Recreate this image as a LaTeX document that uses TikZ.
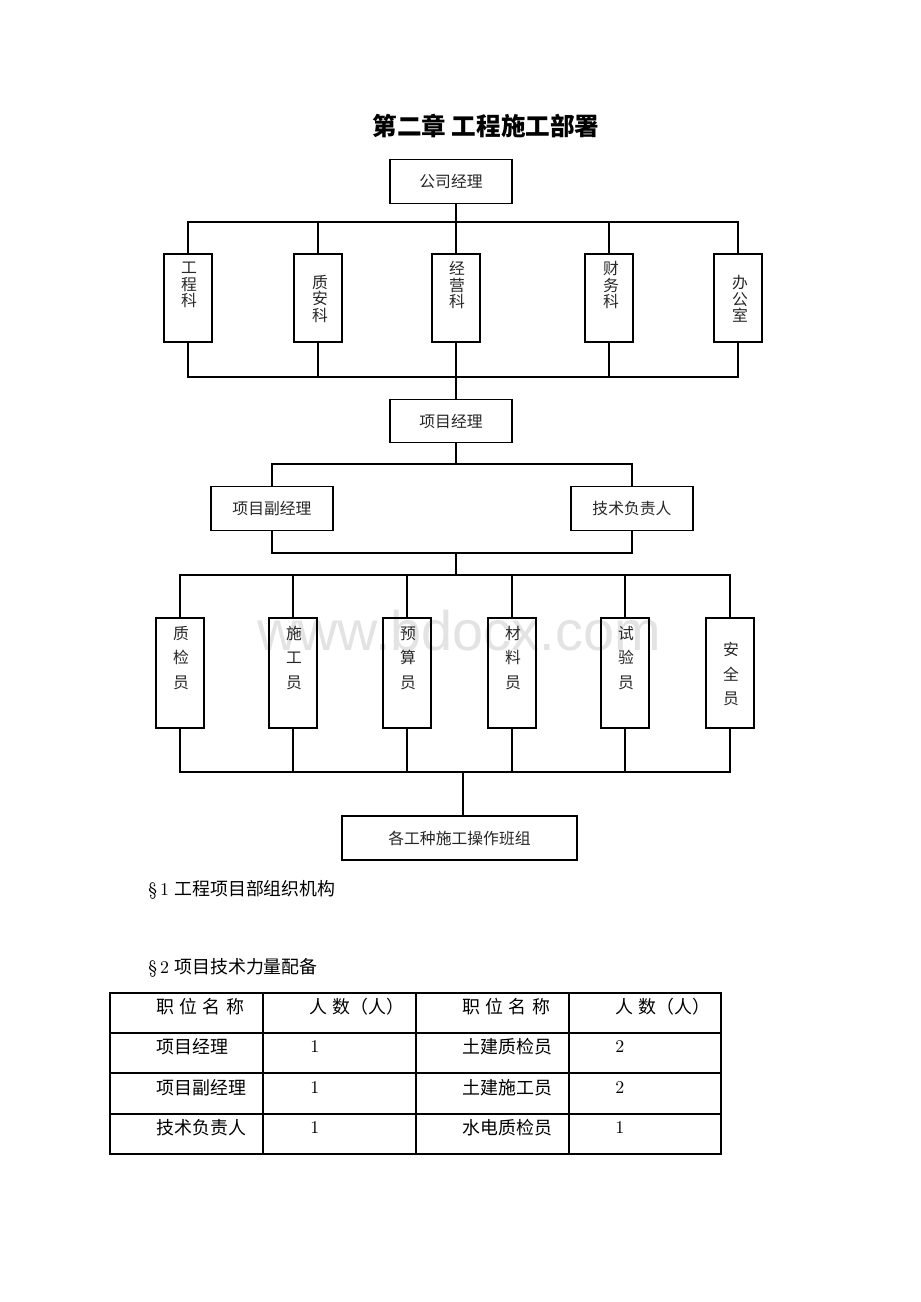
\documentclass[tikz,border=0pt]{standalone}
\usepackage{fontspec}
\usepackage{tikz}
\newfontfamily\cjk{Noto Sans CJK SC}
\newfontfamily\wmfont{Liberation Sans}
\tikzset{
  unit/.style={draw=black,line width=0.7pt,inner sep=0pt,font=\cjk\fontsize{9pt}{10pt}\selectfont,text=black!85},
  wide/.style={unit,minimum width=2.44cm,minimum height=0.87cm},
  tall/.style={unit,minimum width=0.96cm,minimum height=1.76cm},
  staff/.style={unit,minimum width=0.96cm,minimum height=2.2cm},
  lbl/.style={inner sep=0pt,align=center,text=black!85,font=\cjk\fontsize{9pt}{9.4pt}\selectfont},
  stafflbl/.style={lbl,font=\cjk\fontsize{9pt}{13.9pt}\selectfont},
  link/.style={line width=0.6pt},
  grid/.style={line width=0.6pt},
  cell/.style={anchor=west,inner sep=0pt,font=\cjk\fontsize{10.2pt}{12pt}\selectfont},
  num/.style={anchor=west,inner sep=0pt,font=\fontsize{10.2pt}{12pt}\selectfont},
  title/.style={inner sep=0pt,font=\cjk\bfseries\fontsize{14pt}{16pt}\selectfont},
  wmark/.style={inner sep=0pt,text=gray!22,font=\wmfont\fontsize{31.8pt}{34pt}\selectfont}
}

\begin{document}
\begin{tikzpicture}[x=0.02cm,y=-0.02cm]
  \useasboundingbox (0,0) rectangle (920,1302);
  \node[wmark] (wm) at (459,631) {www.bdocx.com};
  \node[title] (ttl) at (486,126) {第二章 工程施工部署};

  \coordinate (spine) at (456,0);
  \coordinate (drop) at (463,0);
  \coordinate (bus1) at (0,222);
  \coordinate (bus2) at (0,377);
  \coordinate (bus3) at (0,464);
  \coordinate (bus4) at (0,553);
  \coordinate (bus5) at (0,575);
  \coordinate (bus6) at (0,772);

  \node[wide] (gsjl) at (451,181.5) {公司经理};

  \node[tall] (gck) at (188,298) {};
  \node[tall] (zak) at (318,298) {};
  \node[tall] (jyk) at (456,298) {};
  \node[tall] (cwk) at (609,298) {};
  \node[tall] (bgs) at (738,298) {};
  \node[lbl] (gck-t) at (189,285) {工\\程\\科};
  \node[lbl] (zak-t) at (320,299) {质\\安\\科};
  \node[lbl] (jyk-t) at (457,285) {经\\营\\科};
  \node[lbl] (cwk-t) at (611,285) {财\\务\\科};
  \node[lbl] (bgs-t) at (740,299) {办\\公\\室};

  \node[wide] (xmjl) at (451,421) {项目经理};
  \node[wide] (fjl) at (272,508.5) {项目副经理};
  \node[wide] (jsfz) at (632,508.5) {技术负责人};

  \node[staff] (zjy) at (180,673) {};
  \node[staff] (sgy) at (293,673) {};
  \node[staff] (ysy) at (407,673) {};
  \node[staff] (cly) at (512,673) {};
  \node[staff] (syy) at (625,673) {};
  \node[staff] (aqy) at (730,673) {};
  \node[stafflbl] (zjy-t) at (181,658) {质\\检\\员};
  \node[stafflbl] (sgy-t) at (294,658) {施\\工\\员};
  \node[stafflbl] (ysy-t) at (408,658) {预\\算\\员};
  \node[stafflbl] (cly-t) at (513,658) {材\\料\\员};
  \node[stafflbl] (syy-t) at (626,658) {试\\验\\员};
  \node[stafflbl] (aqy-t) at (731,674) {安\\全\\员};

  \node[unit,minimum width=4.7cm,minimum height=0.88cm] (bzz) at (459.5,838) {各工种施工操作班组};

  \draw[link] (spine |- gsjl.south) -- (spine |- bus1);
  \draw[link] (gck.north) |- (bgs.north |- bus1) -- (bgs.north);
  \draw[link] (zak.north) -- (zak.north |- bus1);
  \draw[link] (jyk.north) -- (jyk.north |- bus1);
  \draw[link] (cwk.north) -- (cwk.north |- bus1);
  \draw[link] (gck.south) |- (bgs.south |- bus2) -- (bgs.south);
  \draw[link] (zak.south) -- (zak.south |- bus2);
  \draw[link] (jyk.south) -- (jyk.south |- bus2);
  \draw[link] (cwk.south) -- (cwk.south |- bus2);
  \draw[link] (spine |- bus2) -- (spine |- xmjl.north);

  \draw[link] (spine |- xmjl.south) -- (spine |- bus3);
  \draw[link] (fjl.north) |- (jsfz.north |- bus3) -- (jsfz.north);
  \draw[link] (fjl.south) |- (jsfz.south |- bus4) -- (jsfz.south);
  \draw[link] (spine |- bus4) -- (spine |- bus5);

  \draw[link] (zjy.north) |- (aqy.north |- bus5) -- (aqy.north);
  \draw[link] (sgy.north) -- (sgy.north |- bus5);
  \draw[link] (ysy.north) -- (ysy.north |- bus5);
  \draw[link] (cly.north) -- (cly.north |- bus5);
  \draw[link] (syy.north) -- (syy.north |- bus5);
  \draw[link] (zjy.south) |- (aqy.south |- bus6) -- (aqy.south);
  \draw[link] (sgy.south) -- (sgy.south |- bus6);
  \draw[link] (ysy.south) -- (ysy.south |- bus6);
  \draw[link] (cly.south) -- (cly.south |- bus6);
  \draw[link] (syy.south) -- (syy.south |- bus6);
  \draw[link] (drop |- bus6) -- (drop |- bzz.north);

  \node[cell] (sec1) at (148,890) {{\rmfamily\S\,1}\hspace{0.3em}工程项目部组织机构};
  \node[cell] (sec2) at (148,968) {{\rmfamily\S\,2}\hspace{0.3em}项目技术力量配备};

  \draw[grid] (110,993) rectangle (721,1154);
  \draw[grid] (110,1033) -- (721,1033);
  \draw[grid] (110,1073) -- (721,1073);
  \draw[grid] (110,1114) -- (721,1114);
  \draw[grid] (263,993) -- (263,1154);
  \draw[grid] (416,993) -- (416,1154);
  \draw[grid] (569,993) -- (569,1154);

  \node[cell] (h1) at (156,1007) {职\hspace{0.3em}位\hspace{0.3em}名\hspace{0.3em}称};
  \node[cell] (h2) at (309,1007) {人\hspace{0.3em}数（人）};
  \node[cell] (h3) at (462,1007) {职\hspace{0.3em}位\hspace{0.3em}名\hspace{0.3em}称};
  \node[cell] (h4) at (615,1007) {人\hspace{0.3em}数（人）};

  \node[cell] (r1a) at (156,1047) {项目经理};
  \node[num] (r1b) at (310,1047) {1};
  \node[cell] (r1c) at (462,1047) {土建质检员};
  \node[num] (r1d) at (615,1047) {2};
  \node[cell] (r2a) at (156,1088) {项目副经理};
  \node[num] (r2b) at (310,1088) {1};
  \node[cell] (r2c) at (462,1088) {土建施工员};
  \node[num] (r2d) at (615,1088) {2};
  \node[cell] (r3a) at (156,1128) {技术负责人};
  \node[num] (r3b) at (310,1128) {1};
  \node[cell] (r3c) at (462,1128) {水电质检员};
  \node[num] (r3d) at (615,1128) {1};
\end{tikzpicture}
\end{document}
